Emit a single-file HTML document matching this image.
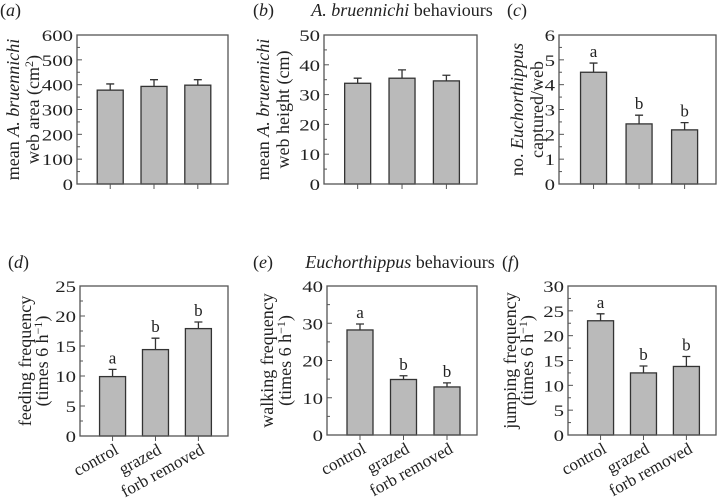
<!DOCTYPE html>
<html><head><meta charset="utf-8"><style>
html,body{margin:0;padding:0;background:#fff;}
svg{display:block;font-family:"Liberation Serif",serif;}
</style></head><body>
<svg id="fig" width="719" height="503" viewBox="0 0 719 503"></svg>
<script>
const categories = ["control","grazed","forb removed"];
const valsA = [378, 393, 398];  const errA = [25, 27, 22];
const valsB = [33.8, 35.5, 34.6]; const errB = [1.7, 2.8, 1.9];
const valsC = [4.5, 2.42, 2.18]; const errC = [0.37, 0.35, 0.29];
const valsD = [9.9, 14.4, 17.9]; const errD = [1.2, 1.9, 1.1];
const valsE = [28.2, 14.9, 12.9]; const errE = [1.6, 1.0, 1.1];
const valsF = [23.0, 12.5, 13.8]; const errF = [1.4, 1.4, 2.0];
const sigC = ["a","b","b"]; const sigD = ["a","b","b"]; const sigE = ["a","b","b"]; const sigF = ["a","b","b"];
const ticksA = [0,100,200,300,400,500,600];
const ticksB = [0,10,20,30,40,50];
const ticksC = [0,1,2,3,4,5,6];
const ticksD = [0,5,10,15,20,25];
const ticksE = [0,10,20,30,40];
const ticksF = [0,5,10,15,20,25,30];

const NS="http://www.w3.org/2000/svg";
const svg=document.getElementById('fig');
function mk(tag,attrs,parent){const e=document.createElementNS(NS,tag);for(const k in attrs)e.setAttribute(k,attrs[k]);(parent||svg).appendChild(e);return e;}
function txt(s,attrs,parent){const e=mk('text',attrs,parent);e.textContent=s;return e;}

function panel(o){
  const g=mk('g',{});
  
  
  const L=o.L,R=o.R,T=o.T,B=o.B,max=o.ticks[o.ticks.length-1];
  const y=v=>B-(v/max)*(B-T);
  const W=R-L;
  const xc=i=>L+W*(0.22+0.29*i);
  const bw=26;
  o.vals.forEach((v,i)=>{
    const cx=xc(i);
    const eb=mk('path',{d:`M${cx} ${y(v)}V${y(v+o.err[i])}M${cx-4} ${y(v+o.err[i])}H${cx+4}`,stroke:'#333','stroke-width':1.3,fill:'none'},g);
    
    
    const r=mk('rect',{x:cx-bw/2,y:y(v),width:bw,height:B-y(v),fill:'#bababa',stroke:'#333','stroke-width':1.3},g);
    
    
    if(o.sig){
      const t=txt(o.sig[i],{x:cx,y:y(v+o.err[i])-6,'text-anchor':'middle','font-size':17,fill:'#222'},g);
      
      
    }
    const tk=mk('line',{x1:cx,x2:cx,y1:B,y2:B+5,stroke:'#555','stroke-width':1},g);
    
    
    if(o.xlabels){
      const t=txt(categories[i],{transform:`translate(${cx+7},${B+17}) rotate(-29)`,'text-anchor':'end','font-size':17,fill:'#222'},g);
      
      
    }
  });
  const f=mk('rect',{x:L,y:T,width:W,height:B-T,fill:'none',stroke:'#555','stroke-width':1.3},g);
  
  
  const step=o.ticks[1]-o.ticks[0];
  o.ticks.forEach((t,i)=>{
    const ly=y(t);
    mk('line',{x1:L,x2:L+5,y1:ly,y2:ly,stroke:'#555','stroke-width':1},g);
    if(i<o.ticks.length-1){const my=y(t+step/2);mk('line',{x1:L,x2:L+3,y1:my,y2:my,stroke:'#555','stroke-width':1},g);}
    const tl=txt(String(t),{transform:`translate(${L-4},${ly+6}) scale(1.3,1)`,'text-anchor':'end','font-size':16,fill:'#222'},g);
    
    
  });
  const cy=(T+B)/2;
  o.ytitle.forEach((ln,i)=>{
    const t=mk('text',{transform:`translate(${o.yx[i]+6},${cy}) rotate(-90)`,'text-anchor':'middle','font-size':18,fill:'#222'},g);
    t.innerHTML=ln;
    
    
  });
  const pl=mk('text',{x:o.lx,y:o.ly,'font-size':18,fill:'#222'},g);
  pl.innerHTML='(<tspan font-style="italic">'+o.id+'</tspan>)';
  
  
}
const h1='(times 6 h<tspan dy="-6" font-size="12">−1</tspan><tspan dy="6">)</tspan>';
panel({id:'a',L:77,R:228,T:35,B:184,vals:valsA,err:errA,ticks:ticksA,yx:[13,33],lx:0,ly:16,
  ytitle:['mean <tspan font-style="italic">A. bruennichi</tspan>','web area (cm<tspan dy="-6" font-size="12">2</tspan><tspan dy="6">)</tspan>']});
panel({id:'b',L:324,R:477,T:35,B:184,vals:valsB,err:errB,ticks:ticksB,yx:[263,283],lx:253,ly:16,
  ytitle:['mean <tspan font-style="italic">A. bruennichi</tspan>','web height (cm)']});
panel({id:'c',L:559,R:716,T:35,B:184,vals:valsC,err:errC,ticks:ticksC,sig:sigC,yx:[517,537],lx:507,ly:16,
  ytitle:['no. <tspan font-style="italic">Euchorthippus</tspan>','captured/web']});
panel({id:'d',L:80,R:228,T:286,B:436,vals:valsD,err:errD,ticks:ticksD,sig:sigD,xlabels:1,yx:[25,42],lx:8,ly:268,
  ytitle:['feeding frequency',h1]});
panel({id:'e',L:327,R:477,T:286,B:435,vals:valsE,err:errE,ticks:ticksE,sig:sigE,xlabels:1,yx:[267,285],lx:253,ly:268,
  ytitle:['walking frequency',h1]});
panel({id:'f',L:568,R:716,T:286,B:435,vals:valsF,err:errF,ticks:ticksF,sig:sigF,xlabels:1,yx:[510,527],lx:502,ly:268,
  ytitle:['jumping frequency',h1]});
const t1=mk('text',{x:402,y:16,'text-anchor':'middle','font-size':18,fill:'#222'});
t1.innerHTML='<tspan font-style="italic">A. bruennichi</tspan> behaviours';


const t2=mk('text',{x:400,y:268,'text-anchor':'middle','font-size':18,fill:'#222'});
t2.innerHTML='<tspan font-style="italic">Euchorthippus</tspan> behaviours';


</script>
</body></html>
